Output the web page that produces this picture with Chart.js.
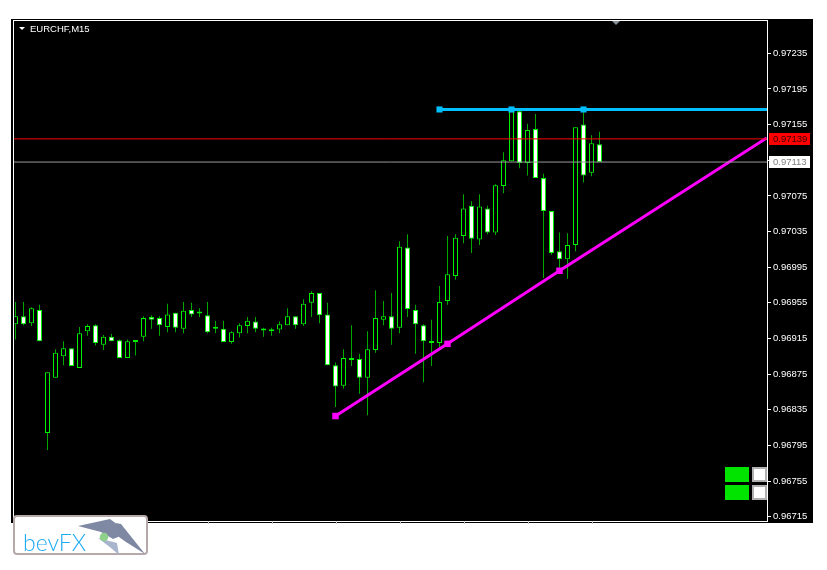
<!DOCTYPE html>
<html>
<head>
<meta charset="utf-8">
<script src="https://cdn.jsdelivr.net/npm/chart.js@4.4.0/dist/chart.umd.min.js"></script>
<style>
  html, body { margin: 0; padding: 0; background: #fff; }
  #wrap { position: relative; width: 827px; height: 570px; }
  #logo { position: absolute; left: 13px; top: 515px; width: 131px; height: 36px;
          border: 2px solid #b7a9a9; border-radius: 4px; background: #fff; }
  #logo span { position: absolute; left: 8px; top: 14px; font: 300 23px Lato, sans-serif;
               line-height: 23px; color: #1eaaf1; }
  #logo svg { position: absolute; left: -2px; top: -2px; }
</style>
</head>
<body>
<div id="wrap">
  <canvas id="chart" width="827" height="570"></canvas>
  <div id="logo">
    <svg width="135" height="40" viewBox="0 0 135 40">
      <polygon points="65,11 97,4 105,10 110,20 100,24 88,17" fill="#8089a3"/>
      <polygon points="103,8 108,9 132,39 113,27 106,22" fill="#7f88a2"/>
      <polygon points="85,23 104,28 106,40 98,33" fill="#a9b5cd"/>
      <circle cx="91" cy="22" r="4.3" fill="#8fd18a"/>
    </svg>
    <span>bevFX</span>
  </div>
</div>
<script>
// EURCHF M15 candles
const opens = [0.96931, 0.96940, 0.96932, 0.96947, 0.96809, 0.96871, 0.96895, 0.96904, 0.96882, 0.96923,
  0.96930, 0.96908, 0.96917, 0.96913, 0.96893, 0.96912, 0.96917, 0.96939, 0.96938, 0.96928,
  0.96944, 0.96926, 0.96947, 0.96944, 0.96941, 0.96927, 0.96926, 0.96911, 0.96921, 0.96929,
  0.96934, 0.96925, 0.96923, 0.96925, 0.96930, 0.96940, 0.96931, 0.96955, 0.96966, 0.96942,
  0.96885, 0.96862, 0.96892, 0.96892, 0.96871, 0.96902, 0.96936, 0.96940, 0.96927, 0.97017,
  0.96947, 0.96930, 0.96912, 0.96910, 0.96957, 0.96985, 0.97030, 0.97064, 0.97026, 0.97061,
  0.97034, 0.97086, 0.97114, 0.97170, 0.97112, 0.97150, 0.97095, 0.97058, 0.97013, 0.97004,
  0.97020, 0.97155, 0.97101, 0.97133];
const highs = [0.96956, 0.96956, 0.96950, 0.96953, 0.96877, 0.96903, 0.96912, 0.96904, 0.96928, 0.96931,
  0.96931, 0.96919, 0.96920, 0.96914, 0.96914, 0.96913, 0.96940, 0.96941, 0.96940, 0.96954,
  0.96944, 0.96956, 0.96955, 0.96949, 0.96956, 0.96935, 0.96935, 0.96923, 0.96932, 0.96939,
  0.96939, 0.96927, 0.96927, 0.96934, 0.96949, 0.96940, 0.96959, 0.96968, 0.96966, 0.96955,
  0.96888, 0.96903, 0.96930, 0.96898, 0.96923, 0.96969, 0.96957, 0.96966, 0.97024, 0.97032,
  0.96953, 0.96931, 0.96936, 0.96974, 0.97030, 0.97032, 0.97077, 0.97069, 0.97077, 0.97064,
  0.97088, 0.97124, 0.97172, 0.97172, 0.97156, 0.97167, 0.97100, 0.97058, 0.97034, 0.97033,
  0.97152, 0.97172, 0.97143, 0.97147];
const lows = [0.96914, 0.96930, 0.96929, 0.96912, 0.96790, 0.96871, 0.96885, 0.96884, 0.96882, 0.96918,
  0.96907, 0.96902, 0.96912, 0.96893, 0.96893, 0.96896, 0.96912, 0.96926, 0.96918, 0.96922,
  0.96922, 0.96921, 0.96939, 0.96939, 0.96921, 0.96921, 0.96911, 0.96909, 0.96916, 0.96921,
  0.96922, 0.96917, 0.96918, 0.96921, 0.96930, 0.96926, 0.96929, 0.96939, 0.96932, 0.96885,
  0.96838, 0.96859, 0.96884, 0.96853, 0.96829, 0.96899, 0.96930, 0.96908, 0.96921, 0.96939,
  0.96898, 0.96866, 0.96884, 0.96902, 0.96953, 0.96981, 0.97022, 0.97011, 0.97020, 0.97032,
  0.97031, 0.97078, 0.97114, 0.97106, 0.97098, 0.97095, 0.96983, 0.97009, 0.96988, 0.96982,
  0.97013, 0.97090, 0.97097, 0.97113];
const closes = [0.96940, 0.96931, 0.96949, 0.96912, 0.96877, 0.96899, 0.96904, 0.96884, 0.96921, 0.96929,
  0.96910, 0.96917, 0.96912, 0.96893, 0.96912, 0.96911, 0.96938, 0.96936, 0.96930, 0.96942,
  0.96927, 0.96946, 0.96942, 0.96943, 0.96922, 0.96926, 0.96911, 0.96922, 0.96930, 0.96935,
  0.96926, 0.96924, 0.96924, 0.96931, 0.96940, 0.96930, 0.96954, 0.96966, 0.96941, 0.96885,
  0.96861, 0.96893, 0.96891, 0.96871, 0.96903, 0.96938, 0.96940, 0.96926, 0.97018, 0.96948,
  0.96931, 0.96912, 0.96910, 0.96956, 0.96987, 0.97028, 0.97061, 0.97027, 0.97063, 0.97034,
  0.97087, 0.97115, 0.97170, 0.97112, 0.97149, 0.97095, 0.97058, 0.97011, 0.97004, 0.97020,
  0.97152, 0.97098, 0.97134, 0.97113];

const priceTicks = [0.97235, 0.97195, 0.97155, 0.97115, 0.97075, 0.97035, 0.96995,
  0.96955, 0.96915, 0.96875, 0.96835, 0.96795, 0.96755, 0.96715];
const timeTicks = [24, 32, 40, 48, 56, 64, 72];

const bidPrice = 0.97113;
const askPrice = 0.97139;
// horizontal resistance line and its anchors
const resIdx = [53, 62, 71];
const resPrice = 0.97172;
// rising trend line anchors, last point is where it leaves the chart
const trendIdx = [40, 54, 68, 93.9];
const trendPrice = [0.96828, 0.96909, 0.96991, 0.97140];

// 8 px per bar, bar 0 centred on x = 15.5
const xMin = -0.1875, xMax = 93.9375;
const yMin = 0.967102, yMax = 0.972724;

const idx = opens.map((_, i) => i);
const bodyFill = opens.map((o, i) => closes[i] < o ? '#ffffff' : '#000000');

const frame = {
  id: 'mt4frame',
  beforeDraw(chart) {
    const c = chart.ctx;
    c.save();
    c.fillStyle = '#ffffff';
    c.fillRect(0, 0, chart.width, chart.height);
    c.fillStyle = '#000000';
    c.fillRect(11, 19, 802, 504);
    c.restore();
  },
  afterDraw(chart) {
    const c = chart.ctx;
    const a = chart.chartArea;
    const xs = chart.scales.x, ys = chart.scales.y;
    c.save();
    // window frame
    c.strokeStyle = '#ffffff';
    c.lineWidth = 1;
    c.strokeRect(13.5, a.top + 0.5, a.right - 13, a.bottom - a.top);

    // time axis notches
    c.strokeStyle = '#c8c8c8';
    timeTicks.forEach(t => {
      const x = Math.round(xs.getPixelForValue(t)) + 0.5;
      c.beginPath(); c.moveTo(x, a.bottom); c.lineTo(x, a.bottom + 3); c.stroke();
    });

    // symbol caption
    c.fillStyle = '#ffffff';
    c.beginPath(); c.moveTo(19, 27); c.lineTo(25, 27); c.lineTo(22, 30); c.closePath(); c.fill();
    c.font = '9.5px "Liberation Sans"';
    c.textBaseline = 'alphabetic';
    c.fillText('EURCHF,M15', 30, 32);

    // chart shift marker
    c.fillStyle = '#8a9099';
    c.beginPath(); c.moveTo(612, a.top + 1); c.lineTo(620, a.top + 1); c.lineTo(616, a.top + 5); c.closePath(); c.fill();

    // price labels for ask / bid
    const lab = (p, bg, fg) => {
      const y = Math.round(ys.getPixelForValue(p));
      c.fillStyle = bg;
      c.fillRect(769, y - 6, 41, 12);
      c.fillStyle = fg;
      c.textBaseline = 'middle';
      c.fillText(p.toFixed(5), 773, y + 0.5);
    };
    lab(askPrice, '#ff0000', '#3a0000');
    lab(bidPrice, '#ffffff', '#808080');

    // buttons bottom right
    c.fillStyle = '#00e400';
    c.fillRect(725, 467, 24, 15);
    c.fillRect(725, 485, 24, 15);
    c.strokeStyle = '#b0b0b0';
    c.lineWidth = 2;
    c.fillStyle = '#ffffff';
    [467, 485].forEach(y => {
      c.fillRect(752, y, 15, 15);
      c.strokeRect(753, y + 1, 13, 13);
    });
    c.restore();
  }
};

new Chart(document.getElementById('chart'), {
  type: 'bar',
  data: {
    datasets: [
      {
        type: 'line', label: 'ask', order: 0,
        data: [{ x: xMin, y: askPrice }, { x: xMax, y: askPrice }],
        borderColor: '#ff0000', borderWidth: 1, pointRadius: 0
      },
      {
        type: 'line', label: 'bid', order: 0,
        data: [{ x: xMin, y: bidPrice }, { x: xMax, y: bidPrice }],
        borderColor: '#9a9a9a', borderWidth: 1, pointRadius: 0
      },
      {
        type: 'line', label: 'resistance', order: 0,
        data: resIdx.map(x => ({ x, y: resPrice })).concat([{ x: xMax, y: resPrice }]),
        borderColor: '#00bfff', backgroundColor: '#00bfff', borderWidth: 3,
        pointStyle: 'rect', pointRadius: [4.3, 4.3, 4.3, 0], pointBorderWidth: 0
      },
      {
        type: 'line', label: 'trend', order: 0,
        data: trendIdx.map((x, i) => ({ x, y: trendPrice[i] })),
        borderColor: '#ff00ff', backgroundColor: '#ff00ff', borderWidth: 3,
        pointStyle: 'rect', pointRadius: [4.6, 4.6, 4.6, 0], pointBorderWidth: 0
      },
      {
        label: 'bodies', order: 1,
        data: idx.map(i => ({ x: i, y: [opens[i], closes[i]] })),
        backgroundColor: bodyFill, borderColor: '#00ee00', borderWidth: 1,
        borderSkipped: false, barThickness: 5, minBarLength: 2, inflateAmount: 0
      },
      {
        label: 'wicks', order: 2,
        data: idx.map(i => ({ x: i, y: [lows[i], highs[i]] })),
        backgroundColor: '#00a800', borderWidth: 0,
        barThickness: 1, inflateAmount: 0
      }
    ]
  },
  options: {
    responsive: false,
    animation: false,
    events: [],
    layout: { padding: { left: 14, top: 20, right: 0, bottom: 49 } },
    plugins: { legend: { display: false }, tooltip: { enabled: false } },
    datasets: { bar: { grouped: false } },
    scales: {
      x: { type: 'linear', min: xMin, max: xMax, offset: false, display: false },
      y: {
        position: 'right', min: yMin, max: yMax,
        afterBuildTicks: s => { s.ticks = priceTicks.map(v => ({ value: v })); },
        afterFit: s => { s.width = 60; },
        ticks: {
          color: '#ffffff', padding: 2, autoSkip: false,
          font: { family: 'Liberation Sans', size: 9.5 },
          callback: v => v.toFixed(5)
        },
        grid: { drawOnChartArea: false, drawTicks: true, tickLength: 4, color: '#ffffff' },
        border: { display: true, color: '#ffffff' }
      }
    }
  },
  plugins: [frame]
});
</script>
</body>
</html>
